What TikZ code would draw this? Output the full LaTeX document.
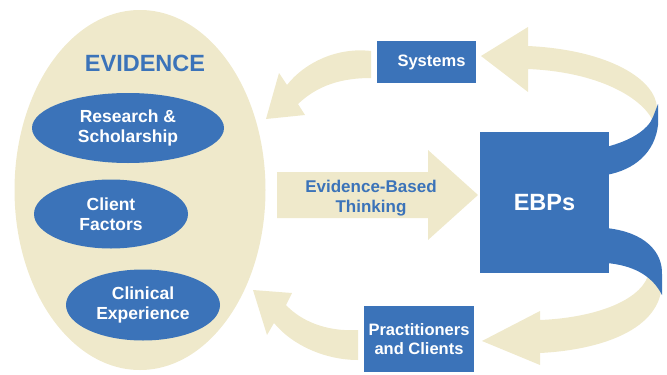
\documentclass[tikz,border=0pt]{standalone}
\usepackage{fontspec}
\setmainfont{Liberation Sans}
\usetikzlibrary{shapes.geometric}
\definecolor{ebpblue}{HTML}{3B73B9}
\definecolor{ebpbeige}{HTML}{EFE9CB}
\begin{document}
\begin{tikzpicture}[x=1pt,y=-1pt,
  oval/.style={ellipse, fill=ebpblue, text=white, inner sep=0pt, align=center,
    font=\bfseries\fontsize{17.5}{20}\selectfont},
  bluebox/.style={rectangle, fill=ebpblue, text=white, inner sep=0pt, align=center,
    font=\bfseries\fontsize{16.5}{19.5}\selectfont},
  band/.style={fill=ebpbeige},
  twist/.style={fill=ebpblue},
  bluetext/.style={text=ebpblue, align=center}]
\useasboundingbox (0,0) rectangle (667,375);

% big evidence ellipse
\node[ellipse, fill=ebpbeige, minimum width=251pt, minimum height=360pt, inner sep=0pt] (evidence) at (140,190) {};
\node[bluetext, font=\bfseries\fontsize{23.5}{26}\selectfont] (title) at (145,63.5) {EVIDENCE};
\node[oval, minimum width=192pt, minimum height=70pt] (research) at (128,128) {Research \&\\Scholarship};
\node[oval, minimum width=154pt, minimum height=69pt] (client) at (111,214) {Client\\Factors};
\node[oval, minimum width=154pt, minimum height=71pt] (clinical) at (143,305) {Clinical\\Experience};

% main arrow
\fill[band] (277,172) -- (428,172) -- (428,150) -- (478,195) -- (428,240) -- (428,218) -- (277,218) -- cycle;
\node[bluetext, font=\bfseries\fontsize{17}{20}\selectfont] (ebt) at (371,198) {Evidence-Based\\Thinking};

% left curved arrows
\fill[band] (371,51) .. controls (338,47) and (305,62) .. (287,85) -- (279,73) -- (266,119) -- (305,115) -- (298,104) .. controls (318,85) and (342,78) .. (371,78) -- cycle;
\fill[band] (358,330) .. controls (325,332) and (300,320) .. (286,305) -- (292,293) -- (253,290) -- (267,335) -- (274,323) .. controls (292,345) and (325,360) .. (358,360) -- cycle;

% right curved ribbons
\fill[band] (481,56) -- (528,27) -- (528,46) .. controls (610,50) and (656,80) .. (657,108) -- (652,119) .. controls (640,97) and (598,72) .. (528,69) -- (528,92) -- cycle;
\fill[twist] (658,104) -- (658,125) .. controls (655,152) and (635,170) .. (606,175) -- (606,147) .. controls (630,141) and (648,130) .. (653,117) -- cycle;
\fill[band] (662,282) .. controls (662,330) and (600,350) .. (540,353) -- (540,365) -- (482,341) -- (540,311) -- (540,320) .. controls (590,318) and (638,303) .. (648,276) -- cycle;
\fill[twist] (606,228) .. controls (645,232) and (663,252) .. (662,275) -- (662,295) .. controls (652,275) and (632,265) .. (606,263) -- cycle;

% boxes
\node[bluebox, minimum width=99pt, minimum height=42pt] (systems) at (426.5,62) {\hspace{10pt}Systems};
\node[bluebox, minimum width=129pt, minimum height=141pt, font=\bfseries\fontsize{23.5}{26}\selectfont] (ebps) at (544.5,202.5) {EBPs};
\node[bluebox, minimum width=110pt, minimum height=66pt] (practitioners) at (419,339) {Practitioners\\and Clients};
\end{tikzpicture}
\end{document}
